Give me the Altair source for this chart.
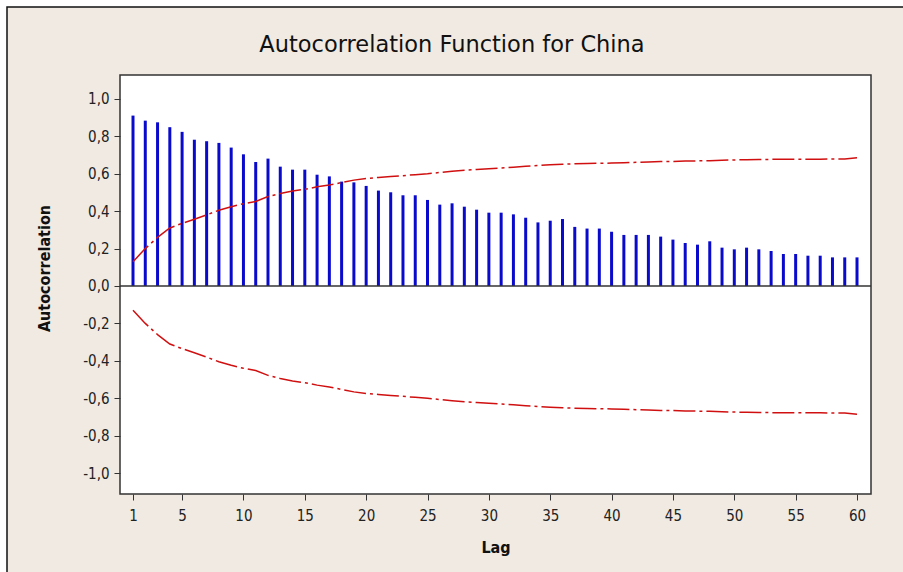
import altair as alt
import pandas as pd

lags = list(range(1, 61))
acf = [0.911, 0.884, 0.875, 0.849, 0.824, 0.782, 0.774, 0.765, 0.740, 0.704,
       0.663, 0.681, 0.638, 0.622, 0.622, 0.595, 0.586, 0.558, 0.554, 0.535,
       0.510, 0.501, 0.485, 0.485, 0.460, 0.435, 0.442, 0.424, 0.408, 0.392,
       0.392, 0.383, 0.365, 0.340, 0.349, 0.358, 0.316, 0.307, 0.307, 0.290,
       0.273, 0.273, 0.273, 0.264, 0.248, 0.230, 0.221, 0.239, 0.205, 0.196,
       0.205, 0.196, 0.187, 0.171, 0.171, 0.162, 0.162, 0.153, 0.153, 0.153]
upper = [0.130, 0.200, 0.260, 0.310, 0.335, 0.357, 0.380, 0.405, 0.424, 0.440,
         0.452, 0.478, 0.495, 0.508, 0.517, 0.530, 0.540, 0.553, 0.566, 0.575,
         0.580, 0.585, 0.590, 0.595, 0.600, 0.607, 0.613, 0.619, 0.623, 0.627,
         0.631, 0.635, 0.640, 0.644, 0.648, 0.651, 0.653, 0.655, 0.656, 0.657,
         0.659, 0.661, 0.663, 0.665, 0.666, 0.668, 0.669, 0.670, 0.672, 0.674,
         0.675, 0.676, 0.677, 0.677, 0.678, 0.678, 0.678, 0.679, 0.679, 0.686]
lower = [-u for u in upper]

x_ticks = [1, 5, 10, 15, 20, 25, 30, 35, 40, 45, 50, 55, 60]
y_ticks = [-1.0, -0.8, -0.6, -0.4, -0.2, 0.0, 0.2, 0.4, 0.6, 0.8, 1.0]
title_text = ["Autocorrelation Function for China"]

W, H = 751, 419

df = pd.DataFrame({"lag": lags, "acf": acf})
lim = pd.concat([
    pd.DataFrame({"lag": lags, "limit": upper, "side": "upper"}),
    pd.DataFrame({"lag": lags, "limit": lower, "side": "lower"}),
])
one = pd.DataFrame({"t": title_text})

xs = alt.Scale(domain=[-0.06, 61.14], nice=False, zero=False)
ys = alt.Scale(domain=[-1.112, 1.128], nice=False, zero=False)

label_expr = "replace(replace(format(datum.value, '.1f'), '.', ','), '\u2212', '-')"
FONT = "DejaVu Sans Condensed"

x_axis = alt.Axis(values=x_ticks, title="Lag", grid=False, domain=False,
                  tickSize=6, tickColor="#333", labelFontSize=15, labelColor="#222",
                  labelFont=FONT, labelPadding=8,
                  titleFont=FONT, titleFontSize=16,
                  titleFontWeight="bold", titleColor="#111", titlePadding=16, zindex=2)
y_axis = alt.Axis(values=y_ticks, title="Autocorrelation", grid=False, domain=False,
                  tickSize=6, tickColor="#333", labelFontSize=15, labelColor="#222",
                  labelFont=FONT, labelPadding=5, labelExpr=label_expr,
                  titleFont=FONT, titleFontSize=16, titleX=-68, titleY=193,
                  titleFontWeight="bold", titleColor="#111", zindex=2)

frame = alt.Chart(one).mark_rect(fill="#F0EAE2", stroke="#111", strokeWidth=1.5).encode(
    x=alt.value(-113), x2=alt.value(W + 60), y=alt.value(-68), y2=alt.value(H + 100))
plotbg = alt.Chart(one).mark_rect(fill="white", stroke="#333", strokeWidth=1.5).encode(
    x=alt.value(0), x2=alt.value(W), y=alt.value(0), y2=alt.value(H))
title = alt.Chart(one).mark_text(font="DejaVu Sans", fontSize=22.5, color="#111",
                                 align="center", baseline="middle").encode(
    text="t:N", x=alt.value(332), y=alt.value(-30))

bars = alt.Chart(df).mark_rule(strokeWidth=3, color="#0a0acc").encode(
    x=alt.X("lag:Q", scale=xs, axis=x_axis),
    y=alt.Y("acf:Q", scale=ys, axis=y_axis),
    y2=alt.datum(0),
)
zero = alt.Chart(one).mark_rule(color="#333", strokeWidth=1.5).encode(
    y=alt.Y(datum=0, scale=ys))
limits = alt.Chart(lim).mark_line(color="#d01010", strokeWidth=1.5,
                                  strokeDash=[22, 4, 3, 4]).encode(
    x=alt.X("lag:Q", scale=xs),
    y=alt.Y("limit:Q", scale=ys),
    detail="side:N",
)

chart = alt.layer(frame, plotbg, title, bars, zero, limits).properties(
    width=W, height=H,
    autosize=alt.AutoSizeParams(type="none"),
    padding={"left": 120, "top": 75, "right": 32, "bottom": 78},
    background="white",
).configure_view(stroke=None)

chart.save("out.html", embed_options={"renderer": "svg", "actions": False})
